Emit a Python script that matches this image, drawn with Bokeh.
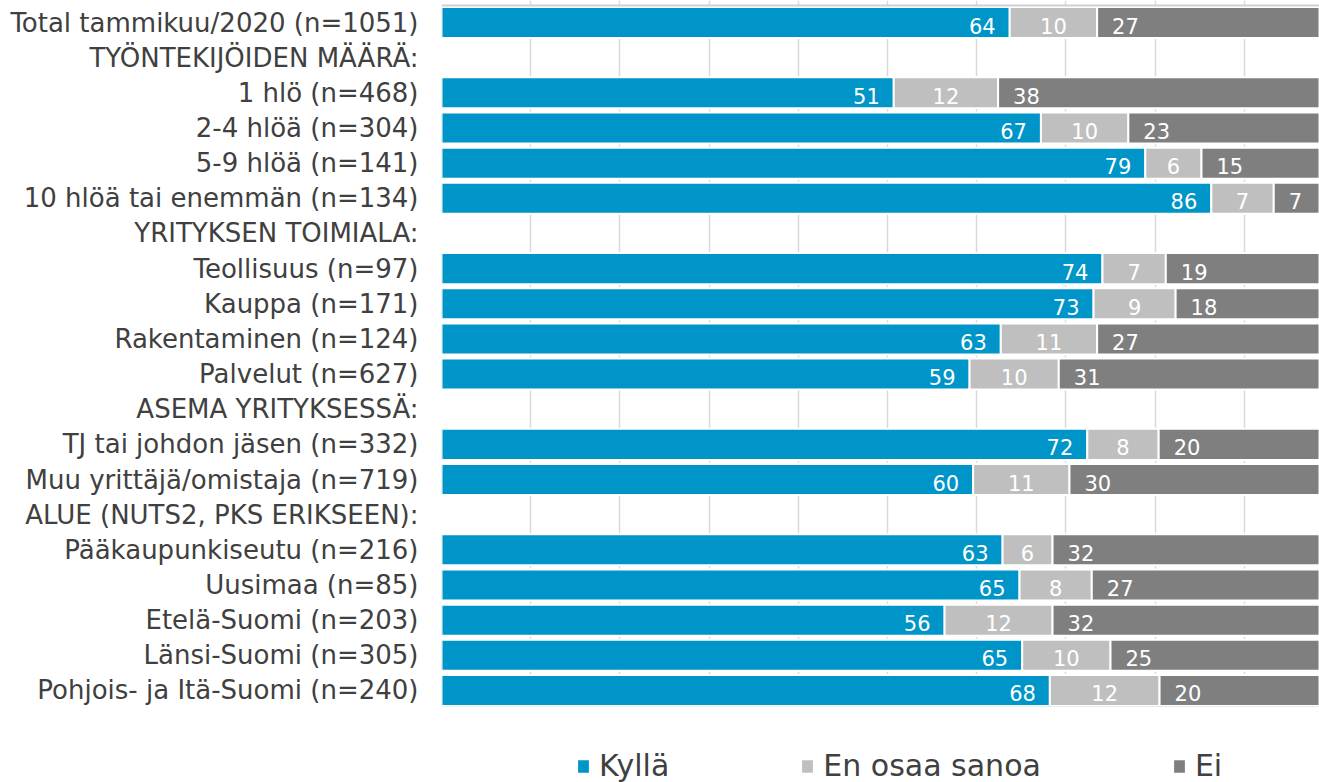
import numpy as np
from bokeh.plotting import figure
from bokeh.layouts import column
from bokeh.models import (ColumnDataSource, Range1d, FixedTicker, Legend, LegendItem, Span)
from bokeh.embed import file_html
from bokeh.resources import INLINE
from bokeh.core.properties import value

categories = [
    "Total tammikuu/2020 (n=1051)", "TYÖNTEKIJÖIDEN MÄÄRÄ:", "1 hlö (n=468)",
    "2-4 hlöä (n=304)", "5-9 hlöä (n=141)", "10 hlöä tai enemmän (n=134)",
    "YRITYKSEN TOIMIALA:", "Teollisuus (n=97)", "Kauppa (n=171)",
    "Rakentaminen (n=124)", "Palvelut (n=627)", "ASEMA YRITYKSESSÄ:",
    "TJ tai johdon jäsen (n=332)", "Muu yrittäjä/omistaja (n=719)",
    "ALUE (NUTS2, PKS ERIKSEEN):", "Pääkaupunkiseutu (n=216)", "Uusimaa (n=85)",
    "Etelä-Suomi (n=203)", "Länsi-Suomi (n=305)", "Pohjois- ja Itä-Suomi (n=240)",
]
kylla = [63.7, None, 50.7, 67.2, 78.9, 86.3, None, 74.1, 73.1, 62.7, 59.2, None,
         72.4, 59.6, None, 62.9, 64.8, 56.4, 65.1, 68.2]
en_osaa = [9.8, None, 11.7, 9.8, 6.3, 7.0, None, 7.1, 9.2, 10.8, 10.0, None,
           8.0, 10.8, None, 5.6, 8.1, 12.1, 9.9, 12.3]
ei = [26.6, None, 37.6, 23.0, 14.8, 6.7, None, 18.8, 17.7, 26.6, 30.8, None,
      19.6, 29.6, None, 31.6, 27.1, 31.6, 25.0, 19.6]
series_names = ["Kyllä", "En osaa sanoa", "Ei"]
colors = ["#0095C8", "#BFBFBF", "#7F7F7F"]

FONT = "DejaVu Sans"

rows = [i for i, v in enumerate(kylla) if v is not None]
k = np.array([kylla[i] for i in rows])
e = np.array([en_osaa[i] for i in rows])
d = np.array([ei[i] for i in rows])

src = ColumnDataSource(dict(
    y=rows,
    k0=np.zeros(len(rows)), k1=k,
    e0=k, e1=k + e,
    d0=k + e, d1=k + e + d,
    emid=k + e / 2,
    kl=[str(int(round(v))) for v in k],
    el=[str(int(round(v))) for v in e],
    dl=[str(int(round(v))) for v in d],
))

p = figure(width=1319, height=706, output_backend="svg", toolbar_location=None,
           x_range=Range1d(0, 98.43), y_range=Range1d(19.456, -0.627),
           x_axis_location=None,
           min_border_left=441, min_border_right=0, min_border_top=0, min_border_bottom=0)
p.outline_line_color = None
p.background_fill_color = "white"
p.border_fill_color = "white"

p.xgrid.ticker = FixedTicker(ticks=list(range(0, 101, 10)))
p.xgrid.grid_line_color = "#D9D9D9"
p.xgrid.grid_line_width = 1.5
p.ygrid.grid_line_color = None

p.add_layout(Span(location=-0.485, dimension="width", line_color="#D0D0D0", line_width=2))

ax = p.yaxis[0]
ax.ticker = FixedTicker(ticks=list(range(len(categories))))
ax.major_label_overrides = {i: c for i, c in enumerate(categories)}
ax.major_label_text_font = FONT
ax.major_label_text_font_size = "26px"
ax.major_label_text_color = "#404040"
ax.major_label_standoff = 23
ax.axis_line_color = None
ax.major_tick_line_color = None
ax.minor_tick_line_color = None
ax.major_tick_out = 0
ax.major_tick_in = 0

H = 0.883
for c, (l, r) in zip(colors, [("k0", "k1"), ("e0", "e1"), ("d0", "d1")]):
    p.hbar(y="y", left=l, right=r, height=H, source=src, fill_color=c,
           line_color="white", line_width=2)

common = dict(source=src, text_font=value(FONT), text_font_size="21px",
              text_color="white", text_baseline="middle", y_offset=3)
p.text(x="k1", y="y", text="kl", text_align="right", x_offset=-14, **common)
p.text(x="emid", y="y", text="el", text_align="center", **common)
p.text(x="d0", y="y", text="dl", text_align="left", x_offset=15, **common)

# legend strip (its frame is aligned with the chart frame by the column layout)
leg = figure(width=1319, height=76, output_backend="svg", toolbar_location=None,
             x_range=Range1d(0, 1), y_range=Range1d(0, 1),
             x_axis_location=None, y_axis_location=None,
             min_border_left=441, min_border_right=0, min_border_top=0, min_border_bottom=0)
leg.outline_line_color = None
leg.grid.grid_line_color = None
# off-range placeholder row so the legend swatches have something to draw from
dummy = ColumnDataSource(dict(y=[5], l=[0], r=[1]))
items = []
for name, c in zip(series_names, colors):
    rr = leg.hbar(y="y", left="l", right="r", height=1, source=dummy, fill_color=c,
                  line_color="white", line_width=2)
    items.append(LegendItem(label=name, renderers=[rr]))
legend = Legend(items=items, orientation="horizontal", location=(134, -1),
                glyph_width=16, glyph_height=18, label_standoff=8, spacing=130,
                padding=0, margin=0, border_line_color=None, background_fill_alpha=0,
                label_text_font=FONT, label_text_font_size="30px",
                label_text_color="#404040")
leg.add_layout(legend, "center")

open("out.html", "w").write(file_html(column(p, leg), INLINE))
